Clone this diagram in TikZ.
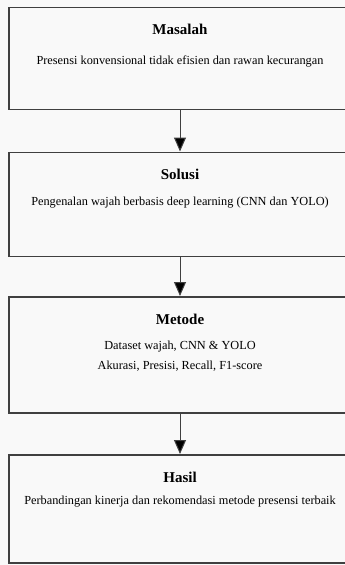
\documentclass[tikz,border=0pt]{standalone}
\usepackage{fontspec}
\setmainfont{Liberation Serif}
\usetikzlibrary{arrows.meta}
\definecolor{bg}{HTML}{F9F9F9}
\definecolor{ln}{HTML}{404040}
\begin{document}
\begin{tikzpicture}[x=1pt,y=-1pt,
  box/.style={draw=ln, line width=1.5pt, fill=bg, minimum width=342pt, anchor=north, inner sep=0pt},
  ttl/.style={font=\fontsize{15}{17}\selectfont\bfseries, inner sep=0pt},
  txt/.style={font=\fontsize{12.3}{14}\selectfont, inner sep=0pt, align=center},
  arr/.style={draw=ln, line width=1pt, -{Triangle[width=12pt,length=14pt,fill=black]}}]
\useasboundingbox (0,0) rectangle (345,565);
\fill[bg] (0,0) rectangle (345,565);
\node[box, minimum height=102pt] (b1) at (180,6.5) {};
\node[box, minimum height=104pt] (b2) at (180,151.5) {};
\node[box, minimum height=116pt] (b3) at (180,296) {};
\node[box, minimum height=108pt] (b4) at (180,454) {};
\node[ttl] (t1) at (180,29) {Masalah};
\node[txt] (s1) at (180,61) {Presensi konvensional tidak efisien dan rawan kecurangan};
\node[ttl] (t2) at (180,174) {Solusi};
\node[txt] (s2) at (180,203) {Pengenalan wajah berbasis deep learning (CNN dan YOLO)};
\node[ttl] (t3) at (180,319) {Metode};
\node[txt] (s3) at (180,347) {Dataset wajah, CNN \& YOLO};
\node[txt] (s3b) at (180,366) {Akurasi, Presisi, Recall, F1-score};
\node[ttl] (t4) at (180,477) {Hasil};
\node[txt] (s4) at (180,502) {Perbandingan kinerja dan rekomendasi metode presensi terbaik};
\draw[arr] (b1.south) -- (b2.north);
\draw[arr] (b2.south) -- (b3.north);
\draw[arr] (b3.south) -- (b4.north);
\end{tikzpicture}
\end{document}
